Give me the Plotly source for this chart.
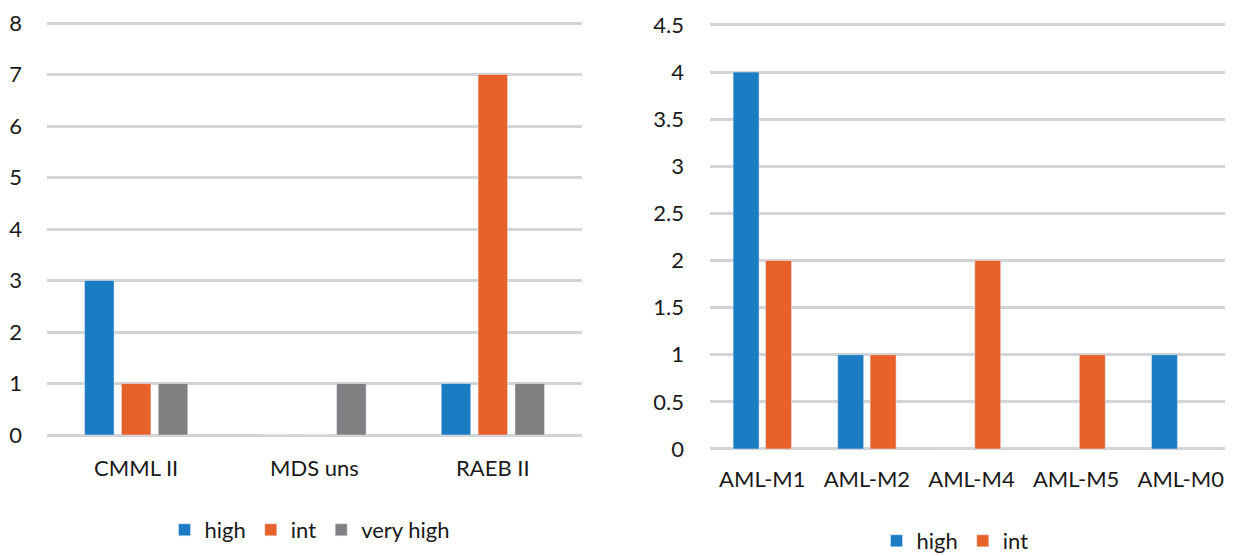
import plotly.graph_objects as go

# Left chart data
left_categories = ["CMML II", "MDS uns", "RAEB II"]
left_high = [3, 0, 1]
left_int = [1, 0, 7]
left_very_high = [1, 1, 1]
left_ticks = [0, 1, 2, 3, 4, 5, 6, 7, 8]

# Right chart data
right_categories = ["AML-M1", "AML-M2", "AML-M4", "AML-M5", "AML-M0"]
right_high = [4, 1, 0, 0, 1]
right_int = [2, 1, 2, 1, 0]
right_ticks = [0, 0.5, 1, 1.5, 2, 2.5, 3, 3.5, 4, 4.5]
right_ticktext = ["0", "0.5", "1", "1.5", "2", "2.5", "3", "3.5", "4", "4.5"]

BLUE = "#1B7CC3"
ORANGE = "#E8602A"
GRAY = "#7F8082"
GRID = "#D2D4D7"
FONT = "Lato"

fig = go.Figure()

fig.add_trace(go.Bar(x=left_categories, y=left_high, name="high", marker_color=BLUE,
                     xaxis="x", yaxis="y", legend="legend"))
fig.add_trace(go.Bar(x=left_categories, y=left_int, name="int", marker_color=ORANGE,
                     xaxis="x", yaxis="y", legend="legend"))
fig.add_trace(go.Bar(x=left_categories, y=left_very_high, name="very high", marker_color=GRAY,
                     xaxis="x", yaxis="y", legend="legend"))

fig.add_trace(go.Bar(x=right_categories, y=right_high, name="high", marker_color=BLUE,
                     xaxis="x2", yaxis="y2", legend="legend2", offsetgroup="h"))
fig.add_trace(go.Bar(x=right_categories, y=right_int, name="int", marker_color=ORANGE,
                     xaxis="x2", yaxis="y2", legend="legend2", offsetgroup="i"))

# page body has an 8px margin; figure sized to fill the rest of the window
OFF = 8
W, H = 1233 - OFF, 556 - OFF
def px_x(p):
    return (p - OFF) / W
def px_y(p):
    return 1 - (p - OFF) / H

axis_font = dict(family=FONT, size=22, color="#1a1a1a")

# left: value 0 at y=435px, value 8 at y=23px; range extended to 8.1
L_TOP = 435 - (435 - 23) / 8 * 8.1
# right: value 0 at y=449px, value 4.5 at y=25px; range extended to 4.56
R_TOP = 449 - (449 - 25) / 4.5 * 4.56

fig.update_layout(
    width=W, height=H,
    margin=dict(l=0, r=0, t=0, b=0, autoexpand=False),
    paper_bgcolor="white", plot_bgcolor="white",
    barmode="group",
    bargap=0.38, bargroupgap=0.2,
    font=dict(family=FONT, size=22, color="#1a1a1a"),
    xaxis=dict(domain=[px_x(47), px_x(582)], anchor="y", showgrid=False, automargin=False,
               tickfont=axis_font, ticks="", showline=False, ticklabelstandoff=18,
               ticklabeloverflow="allow"),
    yaxis=dict(domain=[px_y(435), px_y(L_TOP)], anchor="x", range=[0, 8.1], automargin=False,
               tickvals=left_ticks, showgrid=True, gridcolor=GRID, gridwidth=2.5,
               zeroline=True, zerolinecolor=GRID, zerolinewidth=2.5,
               tickfont=axis_font, ticklabelstandoff=24, showline=False,
               ticklabeloverflow="allow"),
    xaxis2=dict(domain=[px_x(710), 1.0], anchor="y2", showgrid=False, automargin=False,
                tickfont=axis_font, ticks="", showline=False, ticklabelstandoff=15,
                ticklabeloverflow="allow"),
    yaxis2=dict(domain=[px_y(449), px_y(R_TOP)], anchor="x2", range=[0, 4.56], automargin=False,
                tickvals=right_ticks, ticktext=right_ticktext,
                showgrid=True, gridcolor=GRID, gridwidth=2.5,
                zeroline=True, zerolinecolor=GRID, zerolinewidth=2.5,
                tickfont=axis_font, ticklabelstandoff=25, showline=False,
                ticklabeloverflow="allow"),
    legend=dict(orientation="h", x=px_x(310), xanchor="center", y=px_y(530), yanchor="middle",
                font=dict(family=FONT, size=22), itemwidth=30, traceorder="normal",
                bgcolor="rgba(0,0,0,0)"),
    legend2=dict(orientation="h", x=px_x(955), xanchor="center", y=px_y(541), yanchor="middle",
                 font=dict(family=FONT, size=22), itemwidth=30, traceorder="normal",
                 bgcolor="rgba(0,0,0,0)"),
)

fig.write_html("out.html")
